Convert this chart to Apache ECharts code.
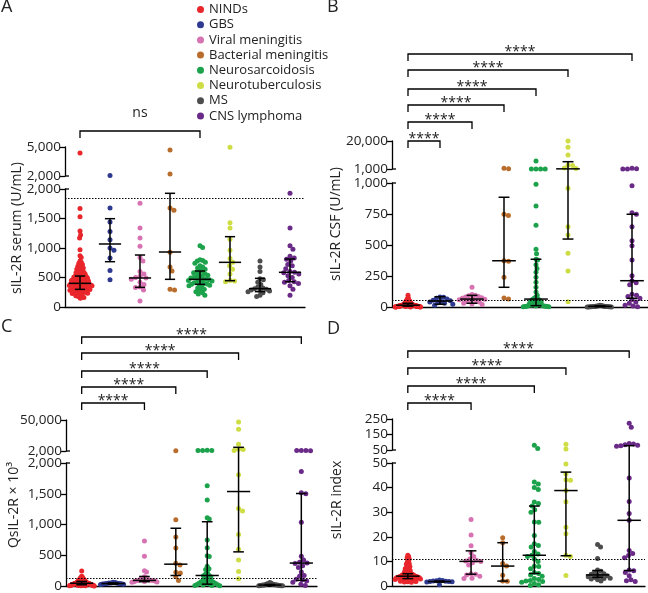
<!DOCTYPE html>
<html><head><meta charset="utf-8">
<script src="https://cdn.jsdelivr.net/npm/echarts@6/dist/echarts.min.js"></script>
<style>html,body{margin:0;padding:0;background:#fff}#c{width:648px;height:593px}</style>
</head><body><div id="c"></div>
<script>
// ---------------- DATA ----------------
const categories = ['NINDs','GBS','Viral meningitis','Bacterial meningitis','Neurosarcoidosis','Neurotuberculosis','MS','CNS lymphoma'];

// Panel A: sIL-2R serum (U/mL)
const serumValues = [
  [4380,1670,1530,1290,1220,1170,970,870,840,780,760,740,720,700,690,680,660,650,640,620,610,600,590,580,570,560,550,540,530,520,515,510,505,500,490,485,480,470,465,460,455,450,445,440,430,425,420,415,410,405,400,400,395,390,385,380,375,370,365,360,355,350,345,340,335,330,325,320,315,310,305,300,300,295,290,285,280,275,270,265,260,255,250,245,240,235,230,220,210,200,190,180,170,160,150],
  [2060,1680,1440,1280,1140,1000,960,830,620,460],
  [1760,1340,1170,1030,840,780,600,560,520,500,490,470,420,380,340,330,290,100],
  [4700,2200,1680,1640,930,680,610,300,290],
  [1040,1010,800,790,780,760,740,700,680,660,640,620,600,590,580,560,550,540,520,510,500,490,480,470,470,460,450,440,430,420,410,400,390,385,380,370,360,340,320,300,280,260,240,220,200],
  [4980,1430,1340,1150,960,820,757,700,640,560,450,440,430],
  [780,680,600,480,460,420,380,340,320,311,300,290,280,270,260,240,200,180],
  [1930,1340,1040,980,860,830,810,780,720,700,650,600,590,580,560,530,500,450,430,420,400,360,300,200]
];
const serumMedian = [401,1068,492,932,469,757,311,588];
const serumQ1 = [299,768,333,469,384,446,260,429];
const serumQ3 = [525,1497,881,1927,610,1192,486,814];

// Panel B: sIL-2R CSF (U/mL)
const csfValues = [
  [94,72,68,65,60,58,55,52,50,48,46,44,42,40,38,36,35,34,32,31,30,29,28,27,26,25,24,23,22,21,20,20,19,18,18,17,17,16,16,15,15,15,14,14,14,13,13,13,12,12,12,11,11,11,10,10,10,9,9,9,8,8,8,8,7,7,7,7,6,6,6,6,5,5,5,5,4,4,4,4,3,3,3,2,2,2,1,1,1,0.5],
  [80,78,70,65,55,50,45,40,35,30,22,15],
  [159,100,95,90,85,80,75,70,65,62,58,55,50,45,40,30,25,20],
  [1450,1100,748,738,373,368,239,72,65],
  [6400,1080,1060,1040,1020,990,815,660,465,430,385,380,340,310,280,240,200,160,120,95,80,70,64,60,55,50,45,40,35,30,25,22,18,15,12,10,9,8,7,6,5,4,3,2],
  [20000,15700,10500,3700,3400,1700,1300,957,648,581,433,290,43],
  [15,12,10,9,8,7,6,5,5,4,4,3,3,2,2,1,1,0.5],
  [1500,1100,1080,1060,978,760,748,648,535,494,379,252,212,196,180,102,95,85,70,60,40,30,15,8,3]
];
const csfMedian = [15,48,64,373,64,1100,5,212];
const csfQ1 = [7,22,30,159,11,548,2,70];
const csfQ3 = [30,83,94,885,385,5950,9,748];

// Panel C: QsIL-2R x 10^3
const qValues = [
  [245,160,150,140,135,130,125,120,115,110,105,100,95,92,88,85,82,80,78,75,72,70,68,65,62,60,58,56,54,52,50,48,47,46,45,44,43,42,41,40,39,38,37,36,35,34,33,32,31,30,29,28,27,26,25,24,23,22,21,20,19,18,17,16,15,14,13,12,11,10,9,8,7,6,5,4,3,2],
  [60,55,50,48,45,42,40,38,35,32,30,25],
  [731,485,250,229,150,130,120,110,100,95,91,88,85,80,75,70,65,60],
  [2300,1077,795,619,370,340,225,210,150,90],
  [3000,2800,2700,2600,1630,1400,1110,1090,750,620,490,480,320,280,270,225,190,175,165,150,130,110,100,90,80,70,60,50,45,40,35,30,25,20,15,10,8,5],
  [47000,35600,12400,4600,4400,2900,1808,1259,1221,837,597,421,235,117],
  [55,45,40,35,30,25,22,20,18,16,15,14,12,10,8,6,5,3],
  [2800,2700,2600,2500,1861,1515,1500,1035,485,421,385,373,365,330,300,229,171,160,110,100,80,60,30,10]
];
const qMedian = [45,40,91,355,171,1536,15,373];
const qQ1 = [20,30,70,171,30,555,8,91];
const qQ3 = [75,50,155,939,1045,7700,25,1504];

// Panel D: sIL-2R index
const indexValues = [
  [12.5,12,11.5,11,10.5,10,9.5,9,8.8,8.5,8,7.8,7.5,7.2,7,6.8,6.5,6.2,6,5.8,5.6,5.4,5.2,5,5,4.9,4.8,4.7,4.6,4.5,4.5,4.4,4.3,4.2,4.2,4.1,4,4,4,3.9,3.9,3.8,3.8,3.7,3.7,3.6,3.6,3.5,3.5,3.4,3.4,3.3,3.3,3.2,3.2,3.1,3.1,3,3,2.9,2.9,2.8,2.8,2.7,2.6,2.5,2.5,2.4,2.3,2.2,2.1,2,1.9,1.8,1.7,1.6,1.5],
  [2.4,2.2,2.1,2,1.9,1.8,1.8,1.7,1.6,0.5],
  [27,20.7,16.4,13.5,12,11,10.5,10.2,10,9.5,8.5,5,4.8,4.5,4,3.2,3],
  [19.6,17.6,9.1,8.1,4.4,2,1.9],
  [80,60,42.3,41.5,40,39.2,34.1,33.5,32.5,31,30,26,25.9,20.5,17.2,16.5,15.9,14,13,12.5,12,11,10,8,7.9,7,5.5,5.1,4.5,4,3,2.6,2.2,2,1.8,1.5,1,0.5,0.2],
  [87,56,49.6,45.5,43.2,43,38.8,34.2,23.9,21.2,12.5,12,4.3],
  [16.9,15.9,11.2,6.5,6,5.5,5,4.8,4.5,4.2,4,3.8,3.5,3.2,3,2.8,2.5,2],
  [222,196,92,88,84,80,78,75,43.9,34.3,29.5,26.7,14.4,13.2,12.4,11.5,6.5,6.2,5.5,4.2,2.5,2.1,1.8]
];
const indexMedian = [4,1.8,10,8.1,12.5,38.8,4.5,26.7];
const indexQ1 = [3,1.6,4.8,2,5.1,12.3,3.5,6.3];
const indexQ3 = [5,2.0,14.3,17.6,32.5,46.3,6.3,78];

// reference (dotted) lines
const refLines = [1848, 55, 128, 11];

// comparisons [from, to] and labels
const serumComparisons = [[0,4]];
const serumLabels = ['ns'];
const csfComparisons = [[0,1],[0,2],[0,3],[0,4],[0,5],[0,7]];
const csfLabels = ['****','****','****','****','****','****'];
const qComparisons = [[0,2],[0,3],[0,4],[0,5],[0,7]];
const qLabels = ['****','****','****','****','****'];
const indexComparisons = [[0,2],[0,4],[0,5],[0,7]];
const indexLabels = ['****','****','****','****'];

// axis ranges & ticks
const serumLowerTicks = {min:0, max:2000, interval:500};
const serumUpperTicks = {min:2000, max:5000, interval:3000};
const csfLowerTicks = {min:0, max:1000, interval:250};
const csfUpperTicks = {min:1000, max:20000, interval:19000};
const qLowerTicks = {min:0, max:2000, interval:500};
const qUpperTicks = {min:2000, max:50000, interval:48000};
const indexLowerTicks = {min:0, max:50, interval:10};
const indexUpperTicks = {min:50, max:250, interval:100};

// ---------------- STYLE / LAYOUT ----------------
const colors = ['#e8262b','#2e3a8f','#d873b3','#b96d2c','#1ca24b','#cfdd45','#4d4d4d','#6a2a87'];
const FONT = '"Open Sans", "Noto Sans", sans-serif';

const panels = [
  {values:serumValues, med:serumMedian, q1:serumQ1, q3:serumQ3, ref:refLines[0],
   lowerT:serumLowerTicks, upperT:serumUpperTicks,
   lower:{left:65,top:189,width:240,height:118}, upper:{left:65,top:147,width:240,height:29},
   comps:serumComparisons, labels:serumLabels, bracketY:[131], labelDy:18,
   title:'sIL-2R serum (U/mL)', titleX:17, titleY:228, letter:'A', letterX:1, letterY:-2},
  {values:csfValues, med:csfMedian, q1:csfQ1, q3:csfQ3, ref:refLines[1],
   lowerT:csfLowerTicks, upperT:csfUpperTicks,
   lower:{left:392,top:183,width:256,height:124}, upper:{left:392,top:141,width:256,height:28},
   comps:csfComparisons, labels:csfLabels, bracketY:[141,122,105,89,70,54], labelDy:2,
   title:'sIL-2R CSF (U/mL)', titleX:336, titleY:224, letter:'B', letterX:327, letterY:-2},
  {values:qValues, med:qMedian, q1:qQ1, q3:qQ3, ref:refLines[2],
   lowerT:qLowerTicks, upperT:qUpperTicks,
   lower:{left:66,top:463,width:251,height:125}, upper:{left:66,top:420,width:251,height:31},
   comps:qComparisons, labels:qLabels, bracketY:[403,387,371,353,337], labelDy:2,
   title:'QsIL-2R \u00d7 10\u00b3', titleX:14, titleY:505, letter:'C', letterX:1, letterY:318},
  {values:indexValues, med:indexMedian, q1:indexQ1, q3:indexQ3, ref:refLines[3],
   lowerT:indexLowerTicks, upperT:indexUpperTicks,
   lower:{left:392,top:463,width:253,height:125}, upper:{left:392,top:419,width:253,height:31},
   comps:indexComparisons, labels:indexLabels, bracketY:[403,386,368,351], labelDy:2,
   title:'sIL-2R index', titleX:337, titleY:500, letter:'D', letterX:327, letterY:320}
];

// deterministic beeswarm layout (pixel space)
function swarm(ys, d, limit) {
  const idx = ys.map((y,i)=>i).sort((a,b)=>ys[a]-ys[b]);
  const placed = []; const xs = new Array(ys.length).fill(0);
  for (const i of idx) {
    const y = ys[i];
    const near = placed.filter(p => Math.abs(p.y - y) < d);
    const cands = [0];
    near.forEach(p => { const dx = Math.sqrt(d*d - (p.y-y)*(p.y-y)); cands.push(p.x+dx, p.x-dx); });
    cands.sort((a,b)=>(Math.abs(a)-Math.abs(b)) || (b-a));
    let best = 0;
    for (const c of cands) {
      if (near.every(p => (p.x-c)*(p.x-c) + (p.y-y)*(p.y-y) >= d*d - 1e-6)) { best = c; break; }
    }
    placed.push({x:best, y}); xs[i] = best;
  }
  let m = 0; xs.forEach(x => { m = Math.max(m, Math.abs(x)); });
  const s = m > limit ? limit/m : 1;
  return xs.map(x => x*s);
}

const fmt = v => Number(v).toLocaleString('en-US');
const grids = [], xAxes = [], yAxes = [], series = [];

panels.forEach((P, pi) => {
  [['lower',P.lowerT],['upper',P.upperT]].forEach(([key, T], k) => {
    const L = P[key];
    const gi = pi*2 + k;
    grids.push({left:L.left, top:L.top, width:L.width, height:L.height});
    xAxes.push({gridIndex:gi, type:'value', min:-0.5, max:7.5, show:k===0,
      axisLine:{show:true, onZero:false, lineStyle:{color:'#000', width:1.3}},
      axisTick:{show:false}, axisLabel:{show:false}, splitLine:{show:false}});
    yAxes.push({gridIndex:gi, type:'value', min:T.min, max:T.max, interval:T.interval,
      axisLine:{show:true, onZero:false, lineStyle:{color:'#000', width:1.3}},
      axisTick:{show:true, length:5, lineStyle:{color:'#000', width:1.3}},
      axisLabel:{fontSize:13.5, color:'#222', margin:4, fontFamily:FONT, formatter:v=>fmt(v)},
      splitLine:{show:false}});
    const band = L.width/8, pyu = L.height/(T.max - T.min);
    let first = true;
    P.values.forEach((arr, g) => {
      const vals = arr.filter(v => k===0 ? v <= P.lowerT.max : v > P.lowerT.max);
      if (!vals.length) return;
      const offs = swarm(vals.map(v => -v*pyu), 4.6, 0.4*band);
      const s = {type:'scatter', name:categories[g], xAxisIndex:gi, yAxisIndex:gi, symbolSize:5,
        silent:true, itemStyle:{color:colors[g], opacity:1},
        data: vals.map((v,i) => [g + offs[i]/band, v])};
      if (k===0 && first) {
        s.markLine = {silent:true, symbol:'none', animation:false, label:{show:false},
          lineStyle:{type:[1.5,1.5], color:'#000', width:1}, data:[{yAxis:P.ref}]};
        first = false;
      }
      series.push(s);
    });
  });
});

const chart = echarts.init(document.getElementById('c'), null, {renderer:'canvas'});
chart.setOption({
  animation:false,
  textStyle:{fontFamily:FONT},
  legend:{data:categories, orient:'vertical', left:192, top:-2, icon:'circle', itemWidth:7, itemHeight:7,
    itemGap:2.2, selectedMode:false,
    textStyle:{fontSize:13, fontFamily:FONT, color:'#222', lineHeight:13}},
  grid:grids, xAxis:xAxes, yAxis:yAxes, series:series
});

// ---------- annotations via library coordinate conversion ----------
const gfx = [];
function line(x1,y1,x2,y2,w){ gfx.push({type:'line', silent:true, z:100, shape:{x1,y1,x2,y2}, style:{stroke:'#000', lineWidth:w||1.5}}); }
function text(x,y,t,size,opts){ gfx.push(Object.assign({type:'text', silent:true, z:100, x, y,
  style:{text:t, fontSize:size, fontFamily:FONT, fill:'#222', align:'center', verticalAlign:'middle'}}, opts||{})); }

panels.forEach((P, pi) => {
  const lo = pi*2, up = pi*2+1;
  const toPx = (x, v) => chart.convertToPixel({gridIndex: v > P.lowerT.max ? up : lo}, [x, v]);
  const band = P.lower.width/8;
  for (let g = 0; g < 8; g++) {
    const p1 = toPx(g, P.q1[g]), p3 = toPx(g, P.q3[g]), pm = toPx(g, P.med[g]);
    const x = p1[0];
    line(x, p1[1], x, p3[1]);
    line(x-0.37*band, pm[1], x+0.37*band, pm[1]);
    line(x-0.17*band, p1[1], x+0.17*band, p1[1]);
    line(x-0.17*band, p3[1], x+0.17*band, p3[1]);
  }
  // axis break caps
  const ax = chart.convertToPixel({gridIndex:lo}, [-0.5, 0])[0];
  const yl = chart.convertToPixel({gridIndex:lo}, [-0.5, P.lowerT.max])[1];
  const yu = chart.convertToPixel({gridIndex:up}, [-0.5, P.upperT.min])[1];
  line(ax, yl, ax+4, yl, 1.3);
  line(ax, yu, ax+4, yu, 1.3);
  // brackets
  P.comps.forEach((c, j) => {
    const y = P.bracketY[j];
    const xa = toPx(c[0], 0)[0], xb = toPx(c[1], 0)[0];
    gfx.push({type:'polyline', silent:true, z:100, shape:{points:[[xa,y+7],[xa,y],[xb,y],[xb,y+7]]},
      style:{stroke:'#000', lineWidth:1.3, fill:null}});
    text((xa+xb)/2, y - P.labelDy, P.labels[j], 14);
  });
  // axis title & panel letter
  text(P.titleX, P.titleY, P.title, 14, {rotation:Math.PI/2});
  gfx.push({type:'text', silent:true, z:100, x:P.letterX, y:P.letterY,
    style:{text:P.letter, fontSize:18, fontFamily:FONT, fill:'#222', align:'left', verticalAlign:'top'}});
});
chart.setOption({graphic:gfx});
</script>
</body></html>
